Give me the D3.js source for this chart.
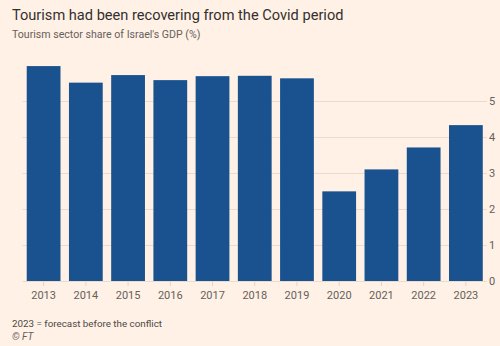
<!DOCTYPE html>
<html>
<head>
<meta charset="utf-8">
<script src="https://cdn.jsdelivr.net/npm/d3@7"></script>
<style>
  body { margin: 0; background: #fff1e5; }
  svg { display: block; font-family: Roboto, sans-serif; }
</style>
</head>
<body>
<div id="chart"></div>
<script>
const width = 500;
const height = 346;

const years = ['2013', '2014', '2015', '2016', '2017', '2018', '2019', '2020', '2021', '2022', '2023'];
const share = [5.97, 5.51, 5.72, 5.58, 5.69, 5.70, 5.63, 2.49, 3.10, 3.71, 4.33];
const yTicks = [0, 1, 2, 3, 4, 5];

const svg = d3.select('#chart').append('svg')
  .attr('width', width)
  .attr('height', height);

svg.append('rect')
  .attr('width', width)
  .attr('height', height)
  .attr('fill', '#fff1e5');

const x = d3.scaleBand()
  .domain(years)
  .range([22.5, 487])
  .paddingInner(0.2)
  .paddingOuter(0.1);

const y = d3.scaleLinear()
  .domain([0, 5])
  .range([281, 101]);

// gridlines
svg.append('g')
  .selectAll('line')
  .data(yTicks)
  .enter()
  .append('line')
  .attr('x1', 22.5)
  .attr('x2', 487)
  .attr('y1', d => Math.round(y(d)) + 0.5)
  .attr('y2', d => Math.round(y(d)) + 0.5)
  .attr('stroke', '#eadbce')
  .attr('stroke-width', 1);

// y labels
svg.append('g')
  .selectAll('text')
  .data(yTicks)
  .enter()
  .append('text')
  .attr('x', 489)
  .attr('y', d => y(d))
  .attr('dy', '0.35em')
  .attr('font-size', 11)
  .attr('fill', '#66605c')
  .text(d => d);

// bars
svg.append('g')
  .selectAll('rect')
  .data(share)
  .enter()
  .append('rect')
  .attr('x', (d, i) => x(years[i]))
  .attr('y', d => y(d))
  .attr('width', x.bandwidth())
  .attr('height', d => y(0) - y(d))
  .attr('fill', '#1a5290');

// x axis ticks
const xAxis = svg.append('g')
  .attr('transform', `translate(0,${y(0)})`)
  .call(d3.axisBottom(x).tickSize(5).tickPadding(5));
xAxis.select('.domain').remove();
xAxis.selectAll('line').attr('stroke', '#e2d3c6');
xAxis.selectAll('text')
  .attr('font-size', 11)
  .attr('font-family', 'Roboto, sans-serif')
  .attr('fill', '#66605c');

svg.append('text')
  .attr('x', 12)
  .attr('y', 20)
  .attr('font-size', 14.6)
  .attr('fill', '#33302e')
  .text('Tourism had been recovering from the Covid period');

svg.append('text')
  .attr('x', 12)
  .attr('y', 38)
  .attr('font-size', 10.6)
  .attr('fill', '#66605c')
  .text("Tourism sector share of Israel's GDP (%)");

svg.append('text')
  .attr('x', 12)
  .attr('y', 327)
  .attr('font-size', 9.8)
  .attr('fill', '#4d4845')
  .text('2023 = forecast before the conflict');

svg.append('text')
  .attr('x', 12)
  .attr('y', 340)
  .attr('font-size', 10)
  .attr('font-style', 'italic')
  .attr('fill', '#66605c')
  .text('© FT');
</script>
</body>
</html>
